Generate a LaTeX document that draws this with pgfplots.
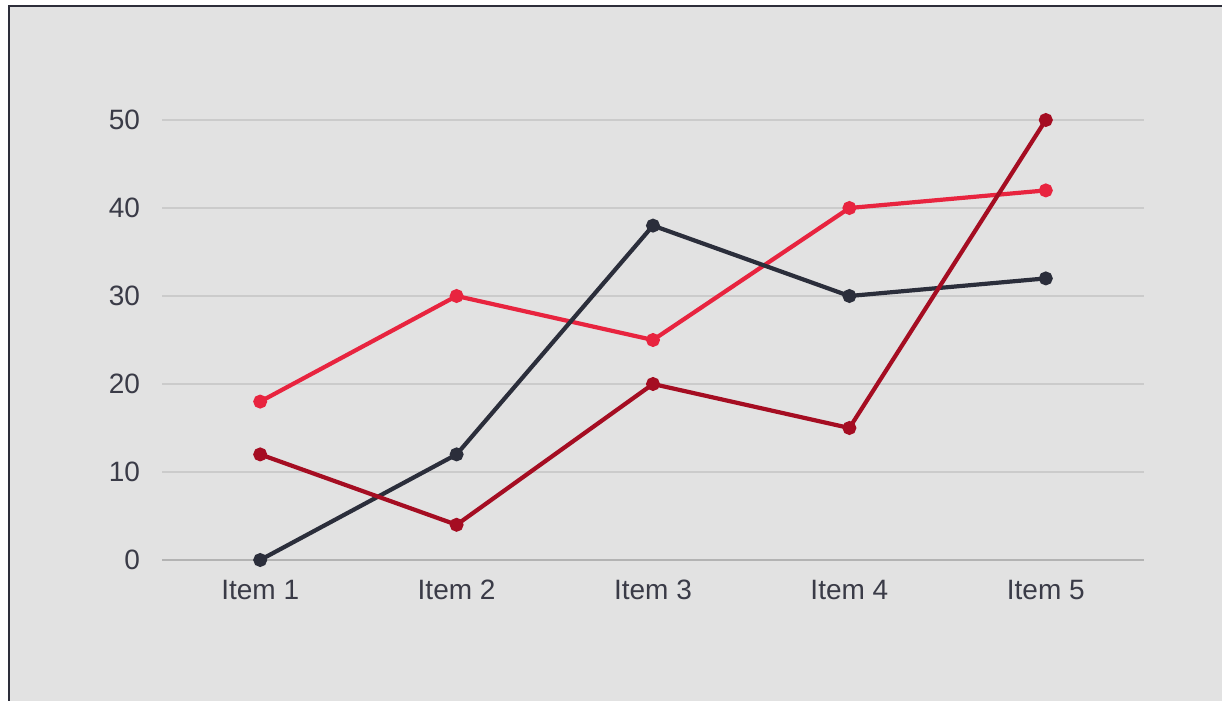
\documentclass[border=0pt]{standalone}
\usepackage{fontspec}
\setmainfont{Liberation Sans}
\usepackage{pgfplots}
\pgfplotsset{compat=1.18}

\definecolor{bgGray}{HTML}{E2E2E2}
\definecolor{frameC}{HTML}{2D2E3A}
\definecolor{gridC}{HTML}{CBCBCB}
\definecolor{baseC}{HTML}{B3B3B3}
\definecolor{textC}{HTML}{3A3B47}
\definecolor{navyLine}{HTML}{2B2E3B}
\definecolor{redLine}{HTML}{E8243F}
\definecolor{wineLine}{HTML}{A50D22}

\begin{document}
\begin{tikzpicture}
% page 1222 x 701 px, 1 px = 0.5pt
\useasboundingbox (0pt,0pt) rectangle (611pt,350.5pt);
\fill[white] (0pt,0pt) rectangle (611pt,350.5pt);
\fill[bgGray] (4.5pt,0pt) rectangle (611pt,347.5pt);
\draw[frameC, line width=1pt] (4.5pt,0pt) -- (4.5pt,347.5pt) -- (611pt,347.5pt);

\begin{axis}[
    at={(81pt,70.5pt)}, anchor=south west,
    scale only axis, width=491pt, height=220pt,
    xmin=-0.5, xmax=4.5, ymin=0, ymax=50,
    clip=false,
    xtick={0,1,2,3,4},
    xticklabels={Item 1,Item 2,Item 3,Item 4,Item 5},
    ytick={0,10,20,30,40,50},
    ymajorgrids,
    grid style={gridC, line width=0.6pt},
    axis line style={draw=none},
    major tick length=0pt,
    /pgf/number format/assume math mode=true,
    tick label style={font=\fontsize{14}{16}\selectfont, text=textC},
    yticklabel style={xshift=-7.5pt},
    xticklabel style={yshift=-6.5pt},
    every axis plot/.append style={line width=2.1pt, mark=*, mark size=2.4pt},
    ]

\draw[baseC, line width=1pt] (axis cs:-0.5,0) -- (axis cs:4.5,0);

\addplot[redLine] coordinates {
    (0,18) (1,30) (2,25) (3,40) (4,42)
};

\addplot[navyLine] coordinates {
    (0,0) (1,12) (2,38) (3,30) (4,32)
};

\addplot[wineLine] coordinates {
    (0,12) (1,4) (2,20) (3,15) (4,50)
};

\end{axis}
\end{tikzpicture}
\end{document}
